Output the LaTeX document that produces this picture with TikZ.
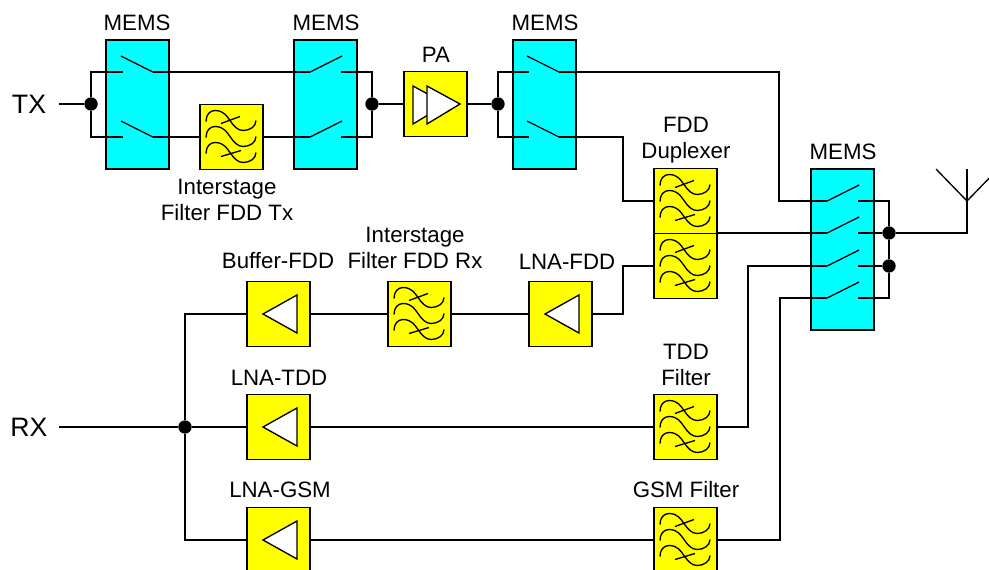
\documentclass[tikz,border=0pt]{standalone}
\usepackage{fontspec}
\setmainfont{Liberation Sans}
\definecolor{memscyan}{RGB}{0,255,255}
\definecolor{boxyellow}{RGB}{255,255,0}
\tikzset{
  wire/.style={line width=1pt},
  memsbox/.style={draw, fill=memscyan, line width=1pt, minimum width=47.25pt, inner sep=0, outer sep=0},
  yellowbox/.style={draw, fill=boxyellow, line width=1pt, minimum width=47.25pt, minimum height=48.75pt, inner sep=0, outer sep=0},
  dotnode/.style={circle, fill=black, minimum size=10pt, inner sep=0},
  lab/.style={font=\fontsize{16.7}{20}\selectfont, align=center, inner sep=0},
  biglab/.style={font=\fontsize{20}{24}\selectfont, inner sep=0},
  swdown/.pic={\draw[wire] (-2,-16) -- (30,0); \coordinate (-in) at (0,0); \coordinate (-out) at (30,0);},
  swup/.pic={\draw[wire] (0,0) -- (32,-16); \coordinate (-in) at (0,0); \coordinate (-out) at (31,0);},
}
\begin{document}
\begin{tikzpicture}[x=0.75pt, y=-0.75pt]
\clip (0,0) rectangle (989,569);
% switch blocks
\node [memsbox, minimum height=96.75pt] (mems1) at (137.5,104.5) {};
\node [memsbox, minimum height=96.75pt] (mems2) at (325.5,104.5) {};
\node [memsbox, minimum height=96.75pt] (mems3) at (544.5,104.5) {};
\node [memsbox, minimum height=120.75pt] (mems4) at (842.5,249.5) {};
% filters
\node [yellowbox] (ftx) at (231.5,137) {};
\node [yellowbox] (dupup) at (685.5,201) {};
\node [yellowbox] (duplo) at (685.5,266) {};
\node [yellowbox] (frx) at (419.5,314) {};
\node [yellowbox] (ftdd) at (685.5,427) {};
\node [yellowbox] (fgsm) at (685.5,540) {};
\foreach \n in {ftx,dupup,duplo,frx,ftdd,fgsm} {
  \begin{scope}[shift={(\n.north west)}]
    \foreach \dy in {0,16,32}
      \draw [wire, yshift=-\dy*0.75pt] (6,17) .. controls (6,10) and (10,6) .. (15,6) .. controls (24,6) and (27,12) .. (30,16) .. controls (34,22) and (38,26) .. (43,26) .. controls (50,26) and (56,22) .. (56,16);
    \draw [wire] (21,19) -- (40,12);
    \draw [wire] (21,52) -- (41,46);
  \end{scope}
}
% amplifiers
\node [yellowbox] (pa) at (435.5,104) {};
\node [yellowbox] (buf) at (278.5,314) {};
\node [yellowbox] (lnafdd) at (560.5,314) {};
\node [yellowbox] (lnatdd) at (278.5,427) {};
\node [yellowbox] (lnagsm) at (278.5,540) {};
\foreach \n in {buf,lnafdd,lnatdd,lnagsm}
  \draw [wire, fill=white, shift={(\n.center)}] (-15.5,0) -- (18.5,-19) -- (18.5,19) -- cycle;
\draw [wire, fill=white] (413,86) -- (446,104) -- (413,124) -- cycle;
\draw [wire, fill=white] (427,86) -- (460,104) -- (427,124) -- cycle;
% switches
\pic (s1a) at (123,72) {swdown};
\pic (s1b) at (123,137) {swdown};
\pic (s2a) at (310,72) {swup};
\pic (s2b) at (310,137) {swup};
\pic (s3a) at (529,72) {swdown};
\pic (s3b) at (529,137) {swdown};
\pic (s4a) at (827,201) {swup};
\pic (s4b) at (827,233) {swup};
\pic (s4c) at (827,266) {swup};
\pic (s4d) at (827,298) {swup};
% junctions
\node [dotnode] (jtx) at (91,104) {};
\node [dotnode] (jm2) at (372,104) {};
\node [dotnode] (jpa) at (498,104) {};
\node [dotnode] (jrx) at (185,427) {};
\node [dotnode] (jant) at (889,233) {};
\node [dotnode] (jlow) at (889,266) {};
\coordinate (txin) at (59,104);
\coordinate (rxin) at (59,427);
\coordinate (antfoot) at (967,201);
\coordinate (anttop) at (967,169);
\coordinate (antl) at (936,169);
\coordinate (antr) at (998,169);
% wiring
\draw [wire] (txin) -- (jtx);
\draw [wire] (jtx) |- (s1a-in);
\draw [wire] (jtx) |- (s1b-in);
\draw [wire] (s1a-out) -- (s2a-in);
\draw [wire] (s1b-out) -- (ftx.west);
\draw [wire] (ftx.east) -- (s2b-in);
\draw [wire] (s2a-out) -| (jm2);
\draw [wire] (s2b-out) -| (jm2);
\draw [wire] (jm2) -- (pa);
\draw [wire] (pa) -- (jpa);
\draw [wire] (jpa) |- (s3a-in);
\draw [wire] (jpa) |- (s3b-in);
\draw [wire] (s3a-out) -| (779,201) -- (s4a-in);
\draw [wire] (s3b-out) -| (623,201) -- (dupup.west);
\draw [wire] (dupup.east |- s4b-in) -- (s4b-in);
\draw [wire] (duplo.west) -| (623,314) -- (lnafdd.east);
\draw [wire] (lnafdd.west) -- (frx.east);
\draw [wire] (frx.west) -- (buf.east);
\draw [wire] (buf.west) -| (jrx);
\draw [wire] (rxin) -- (jrx);
\draw [wire] (jrx) -- (lnatdd);
\draw [wire] (jrx) |- (lnagsm.west);
\draw [wire] (lnatdd) -- (ftdd);
\draw [wire] (lnagsm) -- (fgsm);
\draw [wire] (ftdd.east) -| (748,266) -- (s4c-in);
\draw [wire] (fgsm.east) -| (780,298) -- (s4d-in);
\draw [wire] (s4a-out) -| (jant);
\draw [wire] (s4b-out) -- (jant);
\draw [wire] (s4c-out) -- (jlow);
\draw [wire] (s4d-out) -| (jlow);
\draw [wire] (jant) -- (jlow);
\draw [wire] (jant) -| (antfoot);
\draw [wire] (antfoot) -- (anttop);
\draw [wire] (antfoot) -- (antl);
\draw [wire] (antfoot) -- (antr);
% labels
\node [biglab] (txlab) at (29,104) {TX};
\node [biglab] (rxlab) at (29,427) {RX};
\node [lab] (l1) at (137,23) {MEMS};
\node [lab] (l2) at (326,23) {MEMS};
\node [lab] (l3) at (545,23) {MEMS};
\node [lab] (l4) at (843,152) {MEMS};
\node [lab] (l5) at (436,55) {PA};
\node [lab] (l6) at (227,200) {Interstage\\Filter FDD Tx};
\node [lab] (l7) at (686,140) {FDD\\Duplexer};
\node [lab] (l8) at (415,248) {Interstage\\Filter FDD Rx};
\node [lab] (l9) at (278,261) {Buffer-FDD};
\node [lab] (l10) at (567,262) {LNA-FDD};
\node [lab] (l11) at (279,378) {LNA-TDD};
\node [lab] (l12) at (280,490) {LNA-GSM};
\node [lab] (l13) at (686,365) {TDD\\Filter};
\node [lab] (l14) at (686,490) {GSM Filter};
\end{tikzpicture}
\end{document}
